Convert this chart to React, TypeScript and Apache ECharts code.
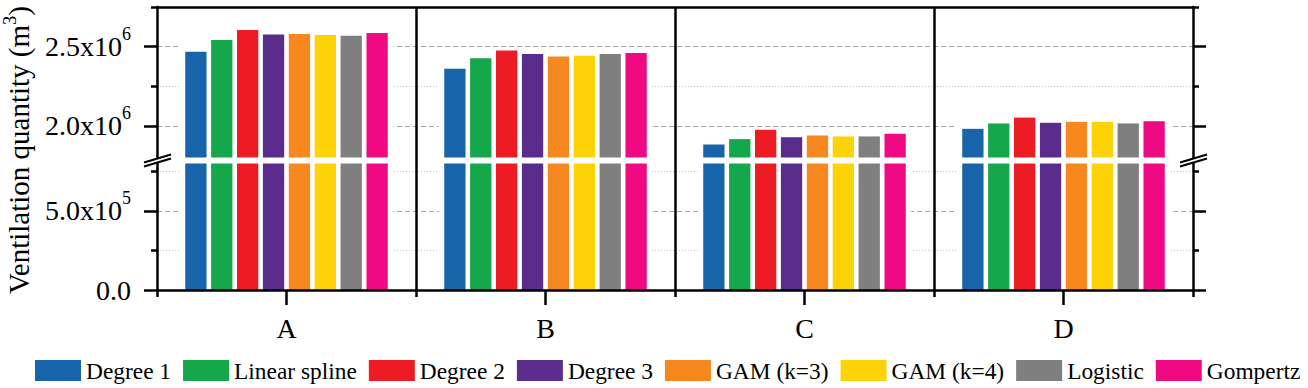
import React, { useEffect, useRef } from 'react';
import * as echarts from 'echarts';

// ---------- data ----------
const categories = ['A', 'B', 'C', 'D'];
const seriesNames = ['Degree 1', 'Linear spline', 'Degree 2', 'Degree 3', 'GAM (k=3)', 'GAM (k=4)', 'Logistic', 'Gompertz'];
const seriesColors = ['#1764AB', '#14A74B', '#ED1C24', '#5A2D8C', '#F7871F', '#FDD307', '#7F7F7F', '#EF0A84'];

const degree1 = [2.467e6, 2.361e6, 1.882e6, 1.981e6];
const linearSpline = [2.542e6, 2.426e6, 1.916e6, 2.015e6];
const degree2 = [2.605e6, 2.475e6, 1.975e6, 2.052e6];
const degree3 = [2.576e6, 2.454e6, 1.928e6, 2.019e6];
const gam3 = [2.58e6, 2.437e6, 1.939e6, 2.025e6];
const gam4 = [2.574e6, 2.443e6, 1.933e6, 2.025e6];
const logistic = [2.569e6, 2.454e6, 1.933e6, 2.015e6];
const gompertz = [2.586e6, 2.46e6, 1.95e6, 2.029e6];
const seriesValues = [degree1, linearSpline, degree2, degree3, gam3, gam4, logistic, gompertz];

const upperRange = [1.8e6, 2.75e6];
const lowerRange = [0, 8e5];
const upperMajorTicks = [2.0e6, 2.5e6];
const upperMinorTicks = [2.25e6, 2.75e6];
const lowerMajorTicks = [0, 5e5];
const lowerMinorTicks = [2.5e5, 7.5e5];

const yTitle = '{b|Ventilation quantity (m}{sup|3}{b|)}';

// ---------- layout / style ----------
const FONT = 'Liberation Serif';
const PL = 157;
const PR = 1193;
const PT = 7;
const PB = 290;
const BREAK_TOP = 157.5;
const BREAK_BOTTOM = 163.5;
const AXIS_W = 2.5;

const categoryMax = categories.map((_, ci) => Math.max(...seriesValues.map((s) => s[ci])));

function fmtLabel(v: number): string {
  if (v === 0) return '{b|0.0}';
  const exp = Math.floor(Math.log10(v) + 1e-9);
  const mant = (v / Math.pow(10, exp)).toFixed(1);
  return `{b|${mant}x10}{sup|${exp}}`;
}

const richBase = { fontFamily: FONT, fontSize: 28, lineHeight: 44, color: '#000', verticalAlign: 'middle' };
const richSup = { fontFamily: FONT, fontSize: 18, lineHeight: 18, color: '#000', verticalAlign: 'top' };

function yAxis(gridIndex: number, range: number[], ticks: number[], kind: 'major' | 'minor', side: 'left' | 'right') {
  const major = kind === 'major';
  return {
    type: 'value',
    gridIndex,
    position: side,
    min: range[0],
    max: range[1],
    axisLine: { show: major, onZero: false, lineStyle: { color: '#000', width: AXIS_W } },
    axisTick: {
      show: true,
      inside: false,
      length: major ? 13 : 6,
      customValues: ticks,
      lineStyle: { color: '#000', width: AXIS_W },
    },
    axisLabel: {
      show: major && side === 'left',
      customValues: ticks,
      formatter: fmtLabel,
      margin: 26,
      color: '#000',
      fontFamily: FONT,
      fontSize: 28,
      lineHeight: 44,
      rich: { b: richBase, sup: richSup },
    },
    splitLine: {
      show: side === 'left',
      lineStyle: major
        ? { color: '#a6a6a6', width: 1, type: [5, 3] }
        : { color: '#c4c4c4', width: 1, type: [1, 2] },
    },
    minorTick: { show: false },
    minorSplitLine: { show: false },
    z: 0,
  };
}

function hiddenX(gridIndex: number) {
  return {
    type: 'category',
    gridIndex,
    data: categories,
    show: false,
    boundaryGap: true,
    axisLine: { onZero: false },
  };
}

function breakMark(cx: number, cy: number) {
  const style = { stroke: '#000', lineWidth: 2 };
  return [
    { type: 'line', z: 100, shape: { x1: cx - 13, y1: cy + 2, x2: cx + 14, y2: cy - 6 }, style },
    { type: 'line', z: 100, shape: { x1: cx - 13, y1: cy + 6, x2: cx + 14, y2: cy - 2 }, style },
  ];
}

export default function App() {
  const ref = useRef<HTMLDivElement>(null);

  useEffect(() => {
    if (!ref.current) return;
    const chart = echarts.init(ref.current, null, { renderer: 'svg', width: 1308, height: 388 });

    const gridBase = { left: PL, width: PR - PL, show: false, containLabel: false, outerBoundsMode: 'none' };

    const makeBars = (xAxisIndex: number, yAxisIndex: number) =>
      seriesNames.map((name, i) => ({
        type: 'bar',
        name,
        xAxisIndex,
        yAxisIndex,
        data: seriesValues[i],
        itemStyle: { color: seriesColors[i] },
        barGap: '21.6%',
        barCategoryGap: '21.8%',
        clip: true,
        silent: true,
        z: 3,
      }));

    const makeMask = (name: string, xAxisIndex: number, yAxisIndex: number) => ({
      type: 'bar',
      name,
      xAxisIndex,
      yAxisIndex,
      data: categoryMax,
      itemStyle: { color: '#fff' },
      barCategoryGap: '17.8%',
      clip: true,
      silent: true,
      z: 2,
    });

    const option: any = {
      animation: false,
      backgroundColor: '#fff',
      grid: [
        { ...gridBase, top: PT, height: PB - PT },
        { ...gridBase, top: PT, height: BREAK_TOP - PT },
        { ...gridBase, top: BREAK_BOTTOM, height: PB - BREAK_BOTTOM },
      ],
      legend: {
        data: seriesNames,
        left: 35,
        top: 359,
        padding: 0,
        icon: 'rect',
        itemWidth: 46,
        itemHeight: 21,
        itemGap: 12,
        selectedMode: false,
        itemStyle: { borderWidth: 0 },
        textStyle: { fontFamily: FONT, fontSize: 23.4, color: '#000' },
      },
      xAxis: [
        {
          type: 'category',
          gridIndex: 0,
          data: categories,
          position: 'top',
          boundaryGap: true,
          axisLine: { show: true, onZero: false, lineStyle: { color: '#000', width: AXIS_W } },
          axisTick: { show: false },
          axisLabel: { show: false },
          splitLine: {
            show: true,
            showMinLine: false,
            showMaxLine: false,
            lineStyle: { color: '#000', width: AXIS_W, type: 'solid' },
          },
          z: 10,
        },
        {
          type: 'category',
          gridIndex: 0,
          data: categories,
          position: 'bottom',
          boundaryGap: true,
          axisLine: { show: true, onZero: false, lineStyle: { color: '#000', width: AXIS_W } },
          axisTick: { show: true, inside: false, length: 7, lineStyle: { color: '#000', width: AXIS_W } },
          axisLabel: { show: false },
          splitLine: { show: false },
          z: 10,
        },
        {
          type: 'category',
          gridIndex: 0,
          data: categories,
          position: 'bottom',
          boundaryGap: true,
          axisLine: { show: false, onZero: false },
          axisTick: { show: true, alignWithLabel: true, inside: false, length: 15, lineStyle: { color: '#000', width: AXIS_W } },
          axisLabel: { show: true, margin: 24, color: '#000', fontFamily: FONT, fontSize: 28 },
          splitLine: { show: false },
          z: 10,
        },
        hiddenX(1),
        hiddenX(1),
        hiddenX(2),
        hiddenX(2),
      ],
      yAxis: [
        { type: 'value', gridIndex: 0, show: false, min: 0, max: 1 },
        yAxis(1, upperRange, upperMajorTicks, 'major', 'left'),
        yAxis(1, upperRange, upperMinorTicks, 'minor', 'left'),
        yAxis(1, upperRange, upperMajorTicks, 'major', 'right'),
        yAxis(1, upperRange, upperMinorTicks, 'minor', 'right'),
        yAxis(2, lowerRange, lowerMajorTicks, 'major', 'left'),
        yAxis(2, lowerRange, lowerMinorTicks, 'minor', 'left'),
        yAxis(2, lowerRange, lowerMajorTicks, 'major', 'right'),
        yAxis(2, lowerRange, lowerMinorTicks, 'minor', 'right'),
      ],
      series: [
        makeMask('mask-upper', 4, 1),
        makeMask('mask-lower', 6, 5),
        ...makeBars(3, 1),
        ...makeBars(5, 5),
      ],
      graphic: {
        elements: [
          {
            type: 'text',
            x: 19,
            y: 150,
            rotation: Math.PI / 2,
            z: 100,
            style: {
              text: yTitle,
              fill: '#000',
              fontFamily: FONT,
              fontSize: 29,
              lineHeight: 37,
              align: 'center',
              verticalAlign: 'middle',
              rich: {
                b: { fontFamily: FONT, fontSize: 29, lineHeight: 37, fill: '#000', verticalAlign: 'middle' },
                sup: { fontFamily: FONT, fontSize: 18.5, lineHeight: 18, fill: '#000', verticalAlign: 'top' },
              },
            },
          },
          ...breakMark(PL, (BREAK_TOP + BREAK_BOTTOM) / 2),
          ...breakMark(PR, (BREAK_TOP + BREAK_BOTTOM) / 2),
        ],
      },
    };

    chart.setOption(option);
    return () => chart.dispose();
  }, []);

  return <div ref={ref} style={{ position: 'fixed', left: 0, top: 0, width: 1308, height: 388 }} />;
}
